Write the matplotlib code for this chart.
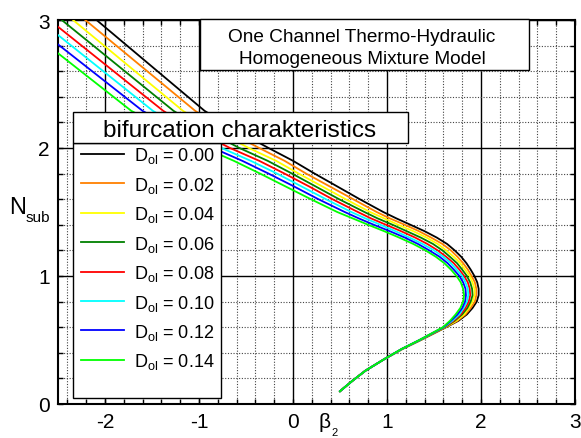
import matplotlib
matplotlib.use('Agg')
import matplotlib.pyplot as plt
from matplotlib.lines import Line2D
from matplotlib.patches import Rectangle

plt.rcParams['font.family'] = ['Liberation Sans', 'DejaVu Sans']
plt.rcParams['mathtext.fontset'] = 'custom'
plt.rcParams['mathtext.rm'] = 'Liberation Sans'
plt.rcParams['mathtext.it'] = 'Liberation Sans:italic'
plt.rcParams['axes.unicode_minus'] = False

# N_sub values shared by all curves (x = beta_2 read at these heights)
n_sub = [3.0, 2.29, 2.2, 2.1, 2.0, 1.9, 1.8, 1.7, 1.6, 1.5, 1.45, 1.4, 1.35, 1.3, 1.25, 1.2, 1.15,
         1.1, 1.05, 1.0, 0.95, 0.9, 0.85, 0.8, 0.75, 0.7, 0.65, 0.6, 0.5, 0.43, 0.35, 0.26, 0.18, 0.1]

beta_000 = [-2.09, -0.94, -0.74, -0.51, -0.26, 0.00, 0.23, 0.47, 0.71, 0.96, 1.10, 1.25, 1.40, 1.53,
            1.64, 1.72, 1.79, 1.845, 1.89, 1.93, 1.96, 1.975, 1.975, 1.955, 1.91, 1.85, 1.76, 1.63,
            1.36, 1.165, 0.97, 0.77, 0.63, 0.50]
beta_002 = [-2.21, -1.04, -0.85, -0.62, -0.36, -0.09, 0.14, 0.39, 0.64, 0.89, 1.03, 1.19, 1.34, 1.47,
            1.59, 1.68, 1.75, 1.81, 1.86, 1.90, 1.935, 1.95, 1.95, 1.935, 1.89, 1.835, 1.75, 1.625,
            1.36, 1.165, 0.97, 0.77, 0.63, 0.50]
beta_004 = [-2.34, -1.17, -0.97, -0.73, -0.47, -0.18, 0.06, 0.31, 0.56, 0.82, 0.97, 1.12, 1.28, 1.42,
            1.54, 1.63, 1.71, 1.78, 1.83, 1.88, 1.91, 1.93, 1.93, 1.91, 1.87, 1.82, 1.735, 1.62,
            1.355, 1.165, 0.97, 0.77, 0.63, 0.50]
beta_006 = [-2.46, -1.27, -1.07, -0.83, -0.57, -0.27, -0.01, 0.24, 0.49, 0.76, 0.90, 1.06, 1.21, 1.36,
            1.49, 1.59, 1.67, 1.745, 1.80, 1.85, 1.885, 1.905, 1.91, 1.89, 1.855, 1.80, 1.72, 1.615,
            1.355, 1.16, 0.97, 0.77, 0.63, 0.50]
beta_008 = [-2.59, -1.38, -1.18, -0.94, -0.67, -0.36, -0.09, 0.17, 0.42, 0.69, 0.83, 0.99, 1.15, 1.30,
            1.43, 1.54, 1.63, 1.71, 1.77, 1.82, 1.86, 1.88, 1.885, 1.87, 1.835, 1.785, 1.71, 1.61,
            1.35, 1.16, 0.97, 0.77, 0.63, 0.50]
beta_010 = [-2.70, -1.49, -1.28, -1.03, -0.76, -0.45, -0.17, 0.09, 0.35, 0.62, 0.77, 0.93, 1.09, 1.24,
            1.38, 1.50, 1.60, 1.68, 1.74, 1.80, 1.835, 1.86, 1.865, 1.85, 1.815, 1.77, 1.695, 1.605,
            1.35, 1.16, 0.97, 0.77, 0.63, 0.50]
beta_012 = [-2.83, -1.60, -1.38, -1.13, -0.85, -0.54, -0.26, 0.01, 0.27, 0.55, 0.70, 0.86, 1.03, 1.19,
            1.33, 1.45, 1.56, 1.645, 1.71, 1.77, 1.81, 1.835, 1.84, 1.83, 1.80, 1.75, 1.68, 1.60,
            1.345, 1.155, 0.97, 0.77, 0.63, 0.50]
beta_014 = [-2.95, -1.72, -1.48, -1.22, -0.94, -0.63, -0.35, -0.08, 0.19, 0.47, 0.635, 0.80, 0.97, 1.13,
            1.28, 1.41, 1.52, 1.61, 1.68, 1.74, 1.785, 1.81, 1.82, 1.81, 1.78, 1.73, 1.67, 1.595,
            1.345, 1.155, 0.97, 0.77, 0.63, 0.50]

d_ol = ['0.00', '0.02', '0.04', '0.06', '0.08', '0.10', '0.12', '0.14']
curves = [beta_000, beta_002, beta_004, beta_006, beta_008, beta_010, beta_012, beta_014]
colors = ['#000000', '#FF8000', '#FFFF00', '#008000', '#FF0000', '#00FFFF', '#0000FF', '#00FF00']

W, H = 581, 439


def fx(px):
    return px / W


def fy(py):
    return 1 - py / H


fig = plt.figure(figsize=(W / 100, H / 100), dpi=100)
ax = fig.add_axes([fx(58), fy(405), fx(575) - fx(58), fy(21) - fy(405)])

for xs, c in zip(curves, colors):
    ax.plot(xs, n_sub, color=c, lw=1.3, zorder=3)

ax.set_xlim(-2.5, 3)
ax.set_ylim(0, 3)
ax.set_xticks([-2, -1, 0, 1, 2, 3])
ax.set_yticks([0, 1, 2, 3])
ax.set_xticks([i * 0.2 - 2.4 for i in range(27)], minor=True)
ax.set_yticks([i * 0.2 for i in range(16)], minor=True)
ax.grid(which='major', color='black', lw=1.0, zorder=1)
ax.grid(which='minor', color='#444444', lw=0.8, ls=(0, (1, 1.5)), zorder=1)
ax.set_axisbelow(True)
ax.tick_params(which='both', direction='in', top=True, right=True, length=3.5,
               width=1.0, labelsize=15, pad=6)
for s in ax.spines.values():
    s.set_linewidth(1.5)

# axis labels
fig.text(fx(9), fy(214), 'N', fontsize=17, va='baseline')
fig.text(fx(26), fy(222), 'sub', fontsize=11, va='baseline')
fig.text(fx(319), fy(428), '\u03b2', fontsize=15, va='baseline')
fig.text(fx(331), fy(436.5), '2', fontsize=8, va='baseline')

# title box
fig.add_artist(Rectangle((fx(200), fy(71)), fx(529) - fx(200), fy(20) - fy(71),
                         transform=fig.transFigure, facecolor='white', edgecolor='black', lw=1.0))
fig.text(fx(362), fy(42), 'One Channel Thermo-Hydraulic', fontsize=13.7, ha='center', va='baseline')
fig.text(fx(362), fy(64), 'Homogeneous Mixture Model', fontsize=13.7, ha='center', va='baseline')

# legend header and entries
fig.add_artist(Rectangle((fx(73), fy(399)), fx(221) - fx(73), fy(144) - fy(399),
                         transform=fig.transFigure, facecolor='white', edgecolor='black', lw=1.0))
fig.add_artist(Rectangle((fx(73), fy(144)), fx(408) - fx(73), fy(113) - fy(144),
                         transform=fig.transFigure, facecolor='white', edgecolor='black', lw=1.0))
fig.text(fx(240), fy(137), 'bifurcation charakteristics', fontsize=17.5, ha='center', va='baseline')

for i, (d, c) in enumerate(zip(d_ol, colors)):
    ly = 155 + i * 29.4
    fig.add_artist(Line2D([fx(81), fx(124)], [fy(ly), fy(ly)], transform=fig.transFigure,
                          color=c, lw=1.3))
    fig.text(fx(134), fy(ly + 6.5), 'D$_{\\mathregular{ol}}$ = ' + d, fontsize=13, va='baseline')

fig.savefig('out.png', dpi=100)
